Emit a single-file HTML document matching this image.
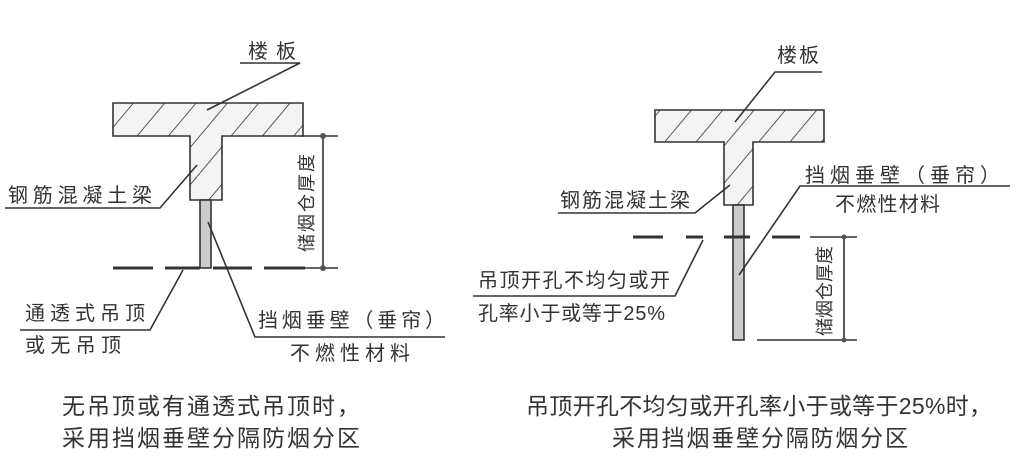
<!DOCTYPE html>
<html><head><meta charset="utf-8"><style>
html,body{margin:0;padding:0;background:#fff;}
svg{display:block;}
text{font-family:"Liberation Sans","Noto Sans CJK SC",sans-serif;fill:#333;}
</style></head><body>
<svg width="1024" height="463" viewBox="0 0 1024 463" xmlns="http://www.w3.org/2000/svg">
<defs>
<pattern id="h" patternUnits="userSpaceOnUse" width="24" height="24" patternTransform="rotate(40)">
<rect width="24" height="24" fill="#f4f4f4"/>
<line x1="0" y1="0" x2="0" y2="24" stroke="#333" stroke-width="1.6"/>
</pattern>
</defs>
<g stroke="#333" stroke-width="1.6" fill="none">
<path d="M113,103 H303 V136 H222 V200 H190 V136 H113 Z" fill="url(#h)"/>
<rect x="200" y="200" width="11" height="68" fill="#ccc"/>
<g stroke-width="3"><line x1="113" y1="268" x2="153" y2="268"/><line x1="165" y1="268" x2="200" y2="268"/><line x1="213" y1="268" x2="252" y2="268"/><line x1="264" y1="268" x2="305" y2="268"/></g>
<line x1="323" y1="136" x2="323" y2="268"/>
<line x1="300" y1="136" x2="338" y2="136"/><line x1="305" y1="268" x2="338" y2="268"/>
<polyline points="240,63 300,63 207,110"/>
<polyline points="5,208 160,208 197,165"/>
<polyline points="20,330 150,330 183,270"/>
<polyline points="445,337 255,337 208,222"/>
<path d="M655,110 H824 V142 H753 V205 H724 V142 H655 Z" fill="url(#h)"/>
<rect x="733" y="205" width="11" height="135" fill="#ccc"/>
<g stroke-width="3"><line x1="633" y1="237" x2="663" y2="237"/><line x1="686" y1="237" x2="703" y2="237"/><line x1="724" y1="237" x2="750" y2="237"/><line x1="772" y1="237" x2="800" y2="237"/></g>
<line x1="844" y1="237" x2="844" y2="340"/>
<line x1="810" y1="237" x2="857" y2="237"/><line x1="757" y1="340" x2="857" y2="340"/>
<polyline points="822,72 775,72 735,122"/>
<polyline points="1010,186 800,186 739,275"/>
<polyline points="558,213 695,213 730,185"/>
<polyline points="473,296 675,296 703,240"/>
</g>
<g fill="#555"><circle cx="323" cy="136" r="3"/><circle cx="323" cy="268" r="3"/><circle cx="844" cy="237" r="2.5"/><circle cx="844" cy="340" r="2.5"/></g>
<g font-size="20">
<text x="248" y="58" textLength="48">楼板</text>
<text x="8" y="202" textLength="144">钢筋混凝土梁</text>
<text x="25" y="320" textLength="120">通透式吊顶</text>
<text x="25" y="352" textLength="96">或无吊顶</text>
<text x="258" y="327" textLength="187">挡烟垂壁（垂帘）</text>
<text x="290" y="360" textLength="120">不燃性材料</text>
<text x="777" y="62" textLength="42">楼板</text>
<text x="805" y="182" textLength="195">挡烟垂壁（垂帘）</text>
<text x="835" y="211" textLength="105">不燃性材料</text>
<text x="560" y="207" textLength="130">钢筋混凝土梁</text>
<text x="478" y="287" textLength="192">吊顶开孔不均匀或开</text>
<text x="478" y="320" textLength="187">孔率小于或等于25%</text>
</g>
<g font-size="18">
<text transform="translate(313,252) rotate(-90)" textLength="98">储烟仓厚度</text>
<text transform="translate(831,336) rotate(-90)" textLength="90">储烟仓厚度</text>
</g>
<g font-size="23">
<text x="62" y="414" textLength="298">无吊顶或有通透式吊顶时，</text>
<text x="62" y="446" textLength="298">采用挡烟垂壁分隔防烟分区</text>
<text x="526" y="414" textLength="466">吊顶开孔不均匀或开孔率小于或等于25%时，</text>
<text x="612" y="446" textLength="296">采用挡烟垂壁分隔防烟分区</text>
</g>
</svg>
</body></html>
